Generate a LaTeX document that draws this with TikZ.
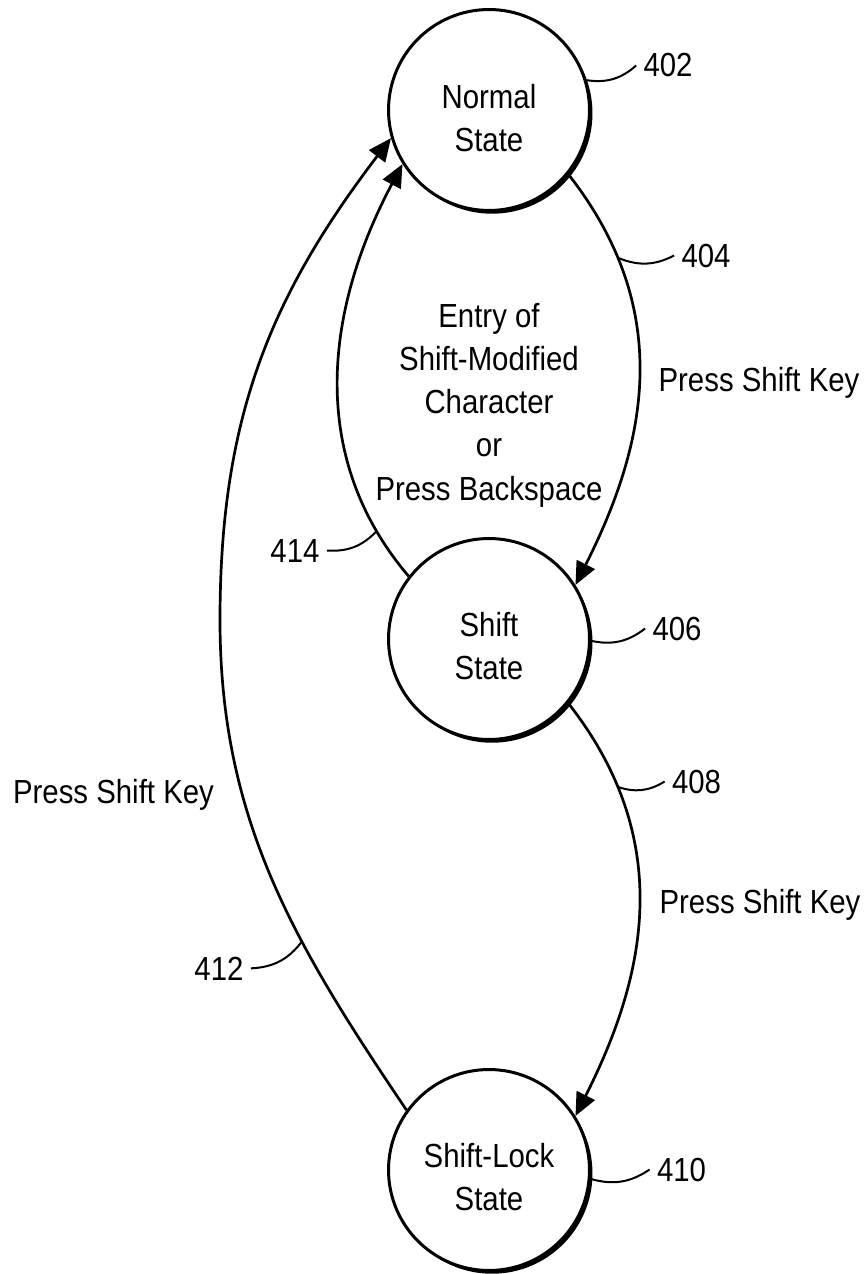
\documentclass[tikz,border=0pt]{standalone}
\usepackage{fontspec}
\setmainfont[FakeStretch=0.88]{Liberation Sans}
\usetikzlibrary{arrows.meta, shadows}

\begin{document}
\begin{tikzpicture}[
    x=0.02cm, y=-0.02cm,
    font=\fontsize{19pt}{24.6pt}\selectfont,
    state/.style={draw, circle, line width=0.06cm, fill=white, minimum size=4.02cm, inner sep=0pt,
        drop shadow={shadow xshift=0.06cm, shadow yshift=-0.065cm, fill=black, opacity=1}},
    statetxt/.style={align=center, inner sep=0pt},
    trans/.style={line width=0.054cm, -{Triangle[length=0.46cm, width=0.4cm]}},
    lbl/.style={anchor=base, inner sep=0pt},
    num/.style={anchor=base, inner sep=4pt},
    leader/.style={line width=0.04cm, bend right=25}
]
\useasboundingbox (0,0) rectangle (868,1274);

% states
\node[state] (normal) at (489,110) {};
\node[state] (shift) at (489,639) {};
\node[state] (lock) at (489,1170) {};
\node[statetxt] (normaltxt) at (489,118) {Normal\\State};
\node[statetxt] (shifttxt) at (489,646) {Shift\\State};
\node[statetxt] (locktxt) at (489,1177) {Shift-Lock\\State};

% transitions
\draw[trans] (normal.-39) .. controls +(110,140) and +(68,-135) .. coordinate[pos=0.2] (e404) (shift.32);
\draw[trans] (shift.-39) .. controls +(110,140) and +(68,-135) .. coordinate[pos=0.2] (e408) (lock.32);
\draw[trans] (shift.142) .. controls +(-104,-122) and +(-75,141) .. coordinate[pos=0.12] (e414) (normal.212);
\coordinate (far412) at (220,620);
\draw[trans] (lock.144) .. controls +(-112,-166) and +(0,200) .. coordinate[pos=0.36] (e412) (far412)
    .. controls +(0,-200) and +(-122,160) .. (normal.196);

% texts on the transitions
\node[statetxt] (backtxt) at (489,405) {Entry of\\Shift-Modified\\Character\\or\\Press Backspace};
\node[lbl] (press404) at (759,391) {Press Shift Key};
\node[lbl] (press408) at (760,913) {Press Shift Key};
\node[lbl] (press412) at (113.5,803) {Press Shift Key};

% reference numerals
\node[num] (n402) at (668,77) {402};
\node[num] (n404) at (706,267) {404};
\node[num] (n406) at (677,640) {406};
\node[num] (n408) at (696.5,793) {408};
\node[num] (n410) at (681.5,1181) {410};
\node[num] (n412) at (219,980) {412};
\node[num] (n414) at (295,562) {414};

\draw[leader] (normal.17) to (n402.west);
\draw[leader] (e404) to (n404.west);
\draw[leader] (shift.-1) to (n406.west);
\draw[leader] (e408) to (n408.west);
\draw[leader] (lock.-5) to (n410.west);
\draw[leader] (n412.east) to (e412);
\draw[leader] (n414.east) to (e414);

\end{tikzpicture}
\end{document}
